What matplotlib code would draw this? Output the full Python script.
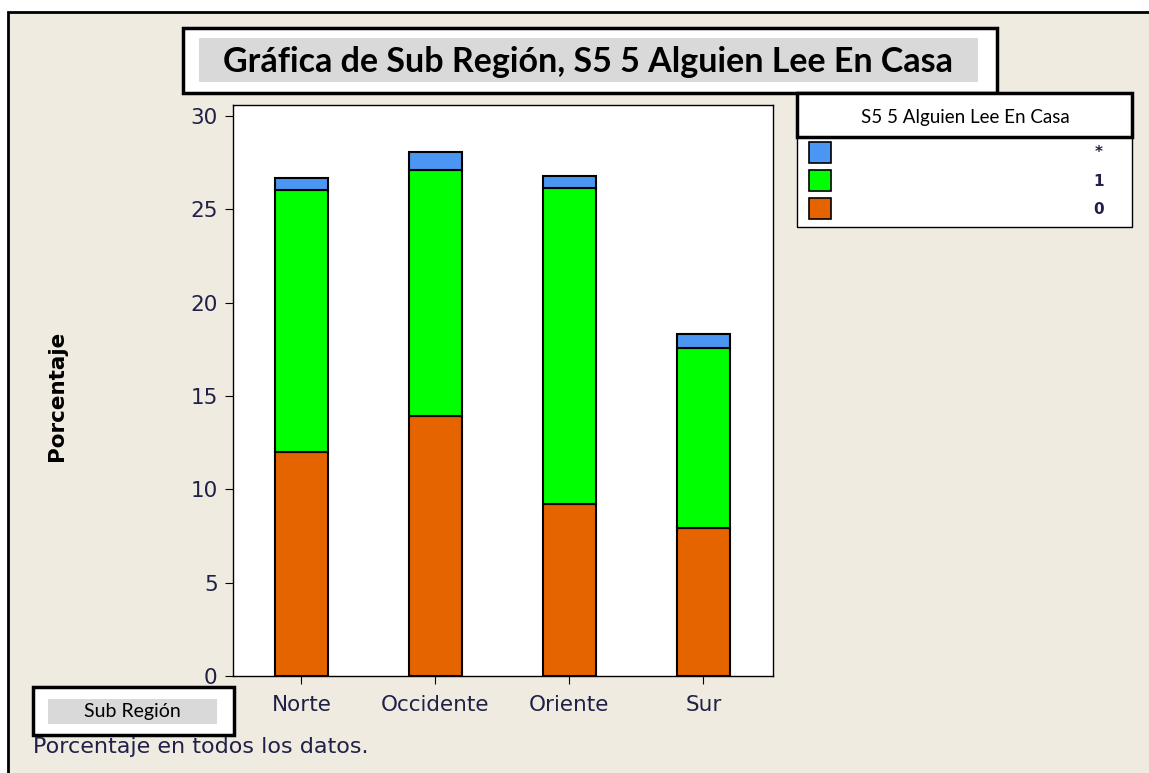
import matplotlib.pyplot as plt
from matplotlib.patches import Rectangle

regiones = ["Norte", "Occidente", "Oriente", "Sur"]
val_0 = [12.0, 13.93, 9.21, 7.93]
val_1 = [14.03, 13.17, 16.93, 9.64]
val_ast = [0.64, 0.97, 0.64, 0.75]
legend_labels = ["*", "1", "0"]

W, H = 1149, 773
col_0 = "#E66400"
col_1 = "#00FF00"
col_ast = "#4A96F2"
beige = "#EFEBE1"
txt = "#202048"


def box(x, y, w, h):
    return [x / W, 1 - (y + h) / H, w / W, h / H]


def frect(x, y, w, h, **kw):
    r = Rectangle((x / W, 1 - (y + h) / H), w / W, h / H,
                  transform=fig.transFigure, **kw)
    fig.add_artist(r)
    return r


def ftext(x, y, s, **kw):
    fig.text(x / W, 1 - y / H, s, **kw)


fig = plt.figure(figsize=(W / 100, H / 100), dpi=100, facecolor="white")

# outer panel
frect(8, 12, 1160, 800, facecolor=beige, edgecolor="black", lw=2, zorder=0)

ax = fig.add_axes(box(233, 105, 540, 571))
ax.set_facecolor("white")
x = range(len(regiones))
ax.bar(x, val_0, width=0.4, color=col_0, edgecolor="black", lw=1.5)
ax.bar(x, val_1, width=0.4, bottom=val_0, color=col_1, edgecolor="black", lw=1.5)
bott = [a + b for a, b in zip(val_0, val_1)]
ax.bar(x, val_ast, width=0.4, bottom=bott, color=col_ast, edgecolor="black", lw=1.5)

ax.set_xlim(-0.51, 3.52)
ax.set_ylim(0, 30.6)
ax.set_yticks([0, 5, 10, 15, 20, 25, 30])
ax.set_xticks(list(x))
ax.set_xticklabels(regiones)
ax.tick_params(direction="out", length=6, labelsize=15.5, colors="black",
               labelcolor=txt, pad=5)
ax.tick_params(axis="x", pad=8)
for s in ax.spines.values():
    s.set_linewidth(1)

ftext(57, 396, "Porcentaje", rotation=90, ha="center", va="center",
      fontsize=15.5, fontweight="bold", color="black")

# title box
frect(183, 28, 814, 65, facecolor="white", edgecolor="black", lw=2.5, zorder=2)
frect(199, 38, 779, 44, facecolor="#D9D9D9", edgecolor="none", zorder=3)
ftext(588, 62, "Gráfica de Sub Región, S5 5 Alguien Lee En Casa",
      ha="center", va="center", fontsize=24.5, fontweight="bold",
      family="Lato", zorder=4)

# legend
frect(797, 137, 335, 90, facecolor="white", edgecolor="black", lw=1, zorder=2)
frect(797, 93, 335, 44, facecolor="white", edgecolor="black", lw=2.5, zorder=3)
ftext(965, 117, "S5 5 Alguien Lee En Casa", ha="center", va="center",
      fontsize=13.5, family="Lato", zorder=4)
for i, (lab, c) in enumerate(zip(legend_labels, [col_ast, col_1, col_0])):
    y0 = 142 + i * 28
    frect(809, y0, 22, 21, facecolor=c, edgecolor="black", lw=1.2, zorder=4)
    ftext(1099, y0 + 11, lab, ha="center", va="center", fontsize=11,
          fontweight="bold", color=txt, zorder=4)

# x label box
frect(33, 687, 201, 48, facecolor="white", edgecolor="black", lw=2.5, zorder=2)
frect(48, 699, 169, 25, facecolor="#D9D9D9", edgecolor="none", zorder=3)
ftext(132, 712, "Sub Región", ha="center", va="center", fontsize=14,
      family="Lato", zorder=4)

ftext(33, 747, "Porcentaje en todos los datos.", ha="left", va="center",
      fontsize=16, color=txt)

fig.savefig("out.png", dpi=100, facecolor="white")
